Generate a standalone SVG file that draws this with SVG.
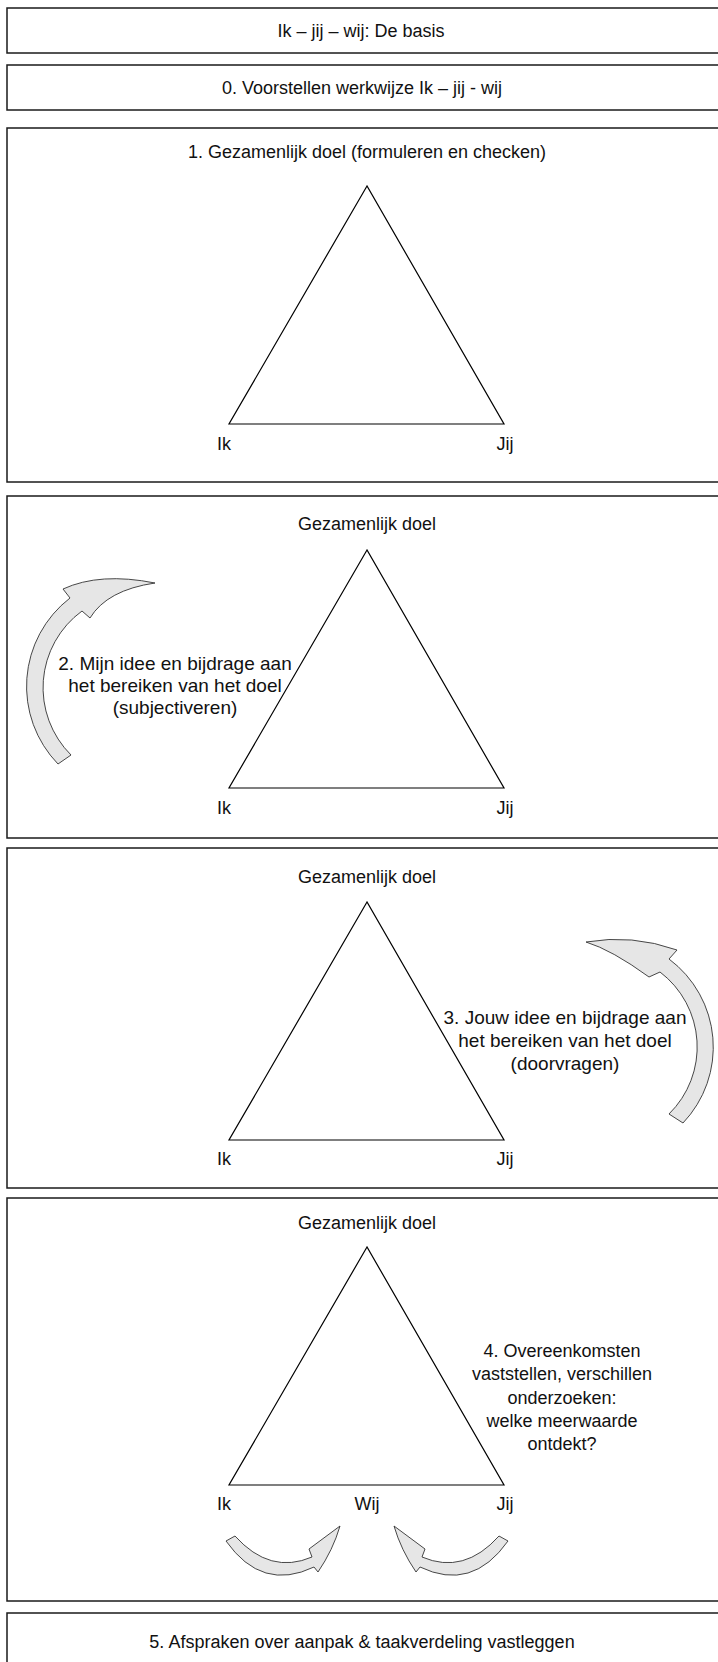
<svg xmlns="http://www.w3.org/2000/svg" width="718" height="1662" viewBox="0 0 718 1662">
  <style>
    .frame { fill: #ffffff; stroke: #1a1a1a; stroke-width: 1.5; }
    .tri { fill: none; stroke: #000000; stroke-width: 1.2; stroke-linejoin: miter; }
    .lbl { font-family: "Liberation Sans", Arial, sans-serif; font-size: 18px; fill: #111111; text-anchor: middle; }
    .note { font-size: 19px; }
    .arrow { fill: #e6e6e6; stroke: #333333; stroke-width: 0.9; stroke-linejoin: miter; }
  </style>
  <defs>
    <polygon id="triangle" class="tri" points="367,0 229,238 504,238"/>
  </defs>
  <rect width="718" height="1662" fill="#ffffff"/>

  <!-- title -->
  <g id="title">
    <rect class="frame" x="7" y="8" width="720" height="45"/>
    <text class="lbl" x="361" y="37">Ik – jij – wij: De basis</text>
  </g>

  <!-- step 0 -->
  <g id="step0">
    <rect class="frame" x="7" y="65" width="720" height="45"/>
    <text class="lbl" x="362" y="94">0. Voorstellen werkwijze Ik – jij - wij</text>
  </g>

  <!-- step 1 -->
  <g id="step1">
    <rect class="frame" x="7" y="128" width="720" height="354"/>
    <text class="lbl" x="367" y="158">1. Gezamenlijk doel (formuleren en checken)</text>
    <use href="#triangle" y="186"/>
    <text class="lbl" x="224" y="450">Ik</text>
    <text class="lbl" x="505" y="450">Jij</text>
  </g>

  <!-- step 2 -->
  <g id="step2">
    <rect class="frame" x="7" y="496" width="720" height="342"/>
    <text class="lbl" x="367" y="530">Gezamenlijk doel</text>
    <use href="#triangle" y="550"/>
    <text class="lbl" x="224" y="814">Ik</text>
    <text class="lbl" x="505" y="814">Jij</text>
    <text class="lbl note" x="175" y="670">2. Mijn idee en bijdrage aan</text>
    <text class="lbl note" x="175" y="692">het bereiken van het doel</text>
    <text class="lbl note" x="175" y="714">(subjectiveren)</text>
  </g>

  <!-- step 3 -->
  <g id="step3">
    <rect class="frame" x="7" y="848" width="720" height="340"/>
    <text class="lbl" x="367" y="883">Gezamenlijk doel</text>
    <use href="#triangle" y="902"/>
    <text class="lbl" x="224" y="1165">Ik</text>
    <text class="lbl" x="505" y="1165">Jij</text>
    <text class="lbl note" x="565" y="1024">3. Jouw idee en bijdrage aan</text>
    <text class="lbl note" x="565" y="1047">het bereiken van het doel</text>
    <text class="lbl note" x="565" y="1070">(doorvragen)</text>
  </g>

  <!-- step 4 -->
  <g id="step4">
    <rect class="frame" x="7" y="1198" width="720" height="403"/>
    <text class="lbl" x="367" y="1229">Gezamenlijk doel</text>
    <use href="#triangle" y="1247"/>
    <text class="lbl" x="224" y="1510">Ik</text>
    <text class="lbl" x="367" y="1510">Wij</text>
    <text class="lbl" x="505" y="1510">Jij</text>
    <text class="lbl" x="562" y="1357">4. Overeenkomsten</text>
    <text class="lbl" x="562" y="1380">vaststellen, verschillen</text>
    <text class="lbl" x="562" y="1404">onderzoeken:</text>
    <text class="lbl" x="562" y="1427">welke meerwaarde</text>
    <text class="lbl" x="562" y="1450">ontdekt?</text>
  </g>

  <!-- step 5 -->
  <g id="step5">
    <rect class="frame" x="7" y="1613" width="720" height="60"/>
    <text class="lbl" x="362" y="1648">5. Afspraken over aanpak &amp; taakverdeling vastleggen</text>
  </g>

  <!-- curved block arrows -->
  <g id="connectors">
    <path id="arrow-ik" class="arrow" d="M58,764 A111.6,111.6 0 0 1 70,598 L63,589 Q100,572 155,583 Q107,590 90,618 L82,611 A95,95 0 0 0 71,755 Z"/>
    <path id="arrow-jij" class="arrow" d="M586,942 Q632,934 677,950 L669,959 A110,110 0 0 1 683,1123 L669,1114 A94,94 0 0 0 660,972 L649,977 Q612,950 586,942 Z"/>
    <path id="arrow-wij-left" class="arrow" d="M226,1541 L235,1536 Q270,1575 312,1557 L309,1549 L340,1526 Q333,1550 318,1572 L314,1567 Q262,1592 226,1541 Z"/>
    <path id="arrow-wij-right" class="arrow" transform="translate(734,0) scale(-1,1)" d="M226,1541 L235,1536 Q270,1575 312,1557 L309,1549 L340,1526 Q333,1550 318,1572 L314,1567 Q262,1592 226,1541 Z"/>
  </g>
</svg>
